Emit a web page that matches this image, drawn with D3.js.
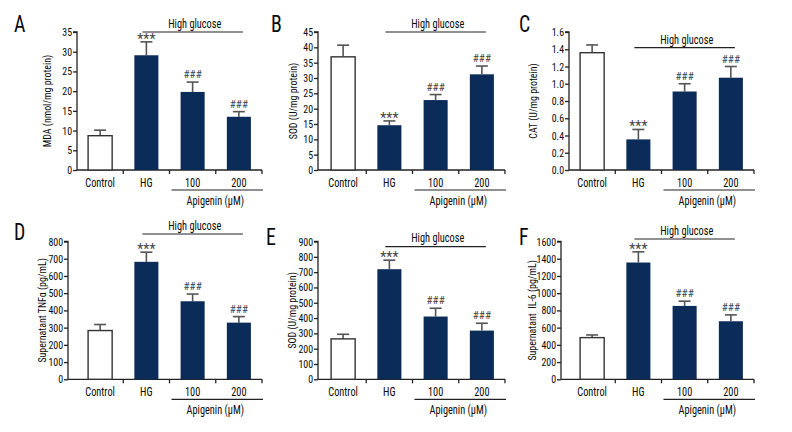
<!DOCTYPE html>
<html><head><meta charset="utf-8">
<script src="https://cdn.jsdelivr.net/npm/d3@7"></script>
<style>
html,body{margin:0;padding:0;background:#fff;}
svg text{font-family:"Liberation Sans Narrow","Roboto Condensed","DejaVu Sans Condensed",sans-serif;}
</style>
</head><body>
<svg id="chart" width="792" height="432"></svg>
<script>
// ---- data ----
const categories = ["Control", "HG", "100", "200"];
const sigLabels = ["", "***", "###", "###"];
const panelLetters = ["A", "B", "C", "D", "E", "F"];
const yLabels = ["MDA (nmol/mg protein)", "SOD (U/mg protein)", "CAT (U/mg protein)",
  "Supernatant TNF\u03b1 (pg/mL)", "SOD (U/mg protein)", "Supernatant  IL-6 (pg/mL)"];
const groupLabel = "High glucose";
const treatLabel = "Apigenin (\u03bcM)";

const mdaMean = [8.7, 29.1, 19.8, 13.5];
const mdaSD   = [1.4, 3.4, 2.5, 1.3];
const sodMean = [36.9, 14.6, 22.8, 31.2];
const sodSD   = [3.8, 1.4, 1.8, 2.7];
const catMean = [1.36, 0.355, 0.91, 1.07];
const catSD   = [0.09, 0.115, 0.09, 0.13];
const tnfMean = [283, 682, 453, 329];
const tnfSD   = [35, 56, 42, 35];
const sod2Mean = [264, 719, 410, 318];
const sod2SD   = [30, 59, 54, 48];
const il6Mean = [484, 1356, 852, 674];
const il6SD   = [31, 124, 55, 74];

const mdaTicks = [0, 5, 10, 15, 20, 25, 30, 35];
const sodTicks = [0, 5, 10, 15, 20, 25, 30, 35, 40, 45];
const catTicks = [0, 0.2, 0.4, 0.6, 0.8, 1.0, 1.2, 1.4, 1.6];
const tnfTicks = [0, 100, 200, 300, 400, 500, 600, 700, 800];
const sod2Ticks = [0, 100, 200, 300, 400, 500, 600, 700, 800, 900];
const il6Ticks = [0, 200, 400, 600, 800, 1000, 1200, 1400, 1600];
const tickFormats = ["d", "d", ".1f", "d", "d", "d"];

// ---- layout (positions only) ----
const means = [mdaMean, sodMean, catMean, tnfMean, sod2Mean, il6Mean];
const sds = [mdaSD, sodSD, catSD, tnfSD, sod2SD, il6SD];
const ticks = [mdaTicks, sodTicks, catTicks, tnfTicks, sod2Ticks, il6Ticks];
const layout = [
  {axisX: 77,  band: [77, 262],  yr: [170, 32],      labX: 47,  letX: 14,  letY: 32,  hgY: 32,    hgT: 27.5},
  {axisX: 318, band: [320, 505], yr: [170, 32],      labX: 293, letX: 271, letY: 32,  hgY: 32,    hgT: 27.5},
  {axisX: 569, band: [569, 754], yr: [170, 32],      labX: 533, letX: 519, letY: 32,  hgY: 47.7,  hgT: 43.5},
  {axisX: 68,  band: [77, 262],  yr: [379.3, 241.5], labX: 42,  letX: 14,  letY: 240, hgY: 234,   hgT: 230},
  {axisX: 318, band: [320, 505], yr: [379.3, 241.5], labX: 292, letX: 266, letY: 245, hgY: 246.7, hgT: 242},
  {axisX: 561, band: [569, 754], yr: [379.3, 241.5], labX: 532, letX: 519, letY: 245, hgY: 239,   hgT: 235}
];

const SX = 0.86; // horizontal condensing to mimic the condensed face
const svg = d3.select("#chart");
const navy = "#0b2c58";
const axisCol = "#222";

function label(g, x, y, txt, size, anchor, rot) {
  return g.append("text")
    .attr("transform", `translate(${x},${y})${rot ? " rotate(-90)" : ""} scale(${SX},1)`)
    .attr("text-anchor", anchor || "middle").attr("fill", "#0a0a0a")
    .style("font-size", size + "px").style("white-space", "pre").text(txt);
}

layout.forEach((L, p) => {
  const g = svg.append("g");
  const tk = ticks[p];
  const y = d3.scaleLinear().domain([0, tk[tk.length - 1]]).range(L.yr);
  const x = d3.scaleBand().domain(categories).range(L.band).paddingInner(0.48).paddingOuter(0.24);
  const step = x.step();
  const y0 = L.yr[0];

  // y axis
  const yAxis = d3.axisLeft(y).tickValues(tk).tickSize(4).tickPadding(1.5).tickFormat(d3.format(tickFormats[p]));
  const ya = g.append("g").attr("transform", `translate(${L.axisX},0)`).call(yAxis);
  ya.select(".domain").attr("stroke", axisCol).attr("stroke-width", 1.3).attr("d", `M-4,${L.yr[1]}H0V${y0}`);
  ya.selectAll(".tick line").attr("stroke", axisCol).attr("stroke-width", 1.3);
  ya.selectAll(".tick text").attr("fill", "#0a0a0a").style("font-size", "11px")
    .attr("transform", "scale(0.9,1)");

  // x axis line and ticks at band boundaries
  const xEnd = L.band[1];
  g.append("line").attr("x1", L.axisX).attr("x2", xEnd).attr("y1", y0).attr("y2", y0)
    .attr("stroke", axisCol).attr("stroke-width", 1.3);
  categories.forEach((c, i) => {
    const bx = L.band[0] + (i + 1) * step;
    g.append("line").attr("x1", bx).attr("x2", bx).attr("y1", y0).attr("y2", y0 + 4)
      .attr("stroke", axisCol).attr("stroke-width", 1.3);
  });

  // bars
  const m = means[p], s = sds[p];
  categories.forEach((c, i) => {
    const bx = x(c), bw = x.bandwidth();
    const cx = bx + bw / 2;
    g.append("line").attr("x1", cx).attr("x2", cx).attr("y1", y(m[i])).attr("y2", y(m[i] + s[i]))
      .attr("stroke", "#555").attr("stroke-width", 1.6);
    g.append("line").attr("x1", cx - 6).attr("x2", cx + 6).attr("y1", y(m[i] + s[i])).attr("y2", y(m[i] + s[i]))
      .attr("stroke", "#555").attr("stroke-width", 1.6);
    if (i === 0) {
      g.append("rect").attr("x", bx).attr("y", y(m[i])).attr("width", bw).attr("height", y0 - y(m[i]))
        .attr("fill", "#fff").attr("stroke", "#333").attr("stroke-width", 1.4);
    } else {
      g.append("rect").attr("x", bx).attr("y", y(m[i])).attr("width", bw).attr("height", y0 - y(m[i]))
        .attr("fill", navy);
    }
    if (sigLabels[i]) {
      const isStar = sigLabels[i] === "***";
      g.append("text").attr("x", cx).attr("y", y(m[i] + s[i]) - (isStar ? -2 : 4))
        .attr("text-anchor", "middle").attr("fill", "#444").style("font-size", isStar ? "14px" : "11px")
        .text(sigLabels[i]);
    }
    label(g, cx, y0 + 17, c, 12);
  });

  // High glucose bracket
  const hx1 = x("HG") + x.bandwidth() / 2 - 4;
  const hx2 = x("200") + x.bandwidth() / 2 + 4;
  g.append("line").attr("x1", hx1).attr("x2", hx2).attr("y1", L.hgY).attr("y2", L.hgY)
    .attr("stroke", "#222").attr("stroke-width", 1.2);
  label(g, (x("100") + x("200") + x.bandwidth()) / 2 - 21, L.hgT, groupLabel, 12);

  // Apigenin bracket
  const ax1 = L.band[0] + 2 * step + 2;
  const ax2 = xEnd + 1;
  const ay = y0 + 20;
  g.append("line").attr("x1", ax1).attr("x2", ax2).attr("y1", ay).attr("y2", ay)
    .attr("stroke", "#222").attr("stroke-width", 1.2);
  label(g, (ax1 + ax2) / 2 - 2, ay + 15, treatLabel, 12);

  // y label
  label(g, L.labX + 4, (L.yr[0] + L.yr[1]) / 2, yLabels[p], 11.5, "middle", true);

  // panel letter
  label(g, L.letX, L.letY, panelLetters[p], 23, "start");
});
</script>
</body></html>
